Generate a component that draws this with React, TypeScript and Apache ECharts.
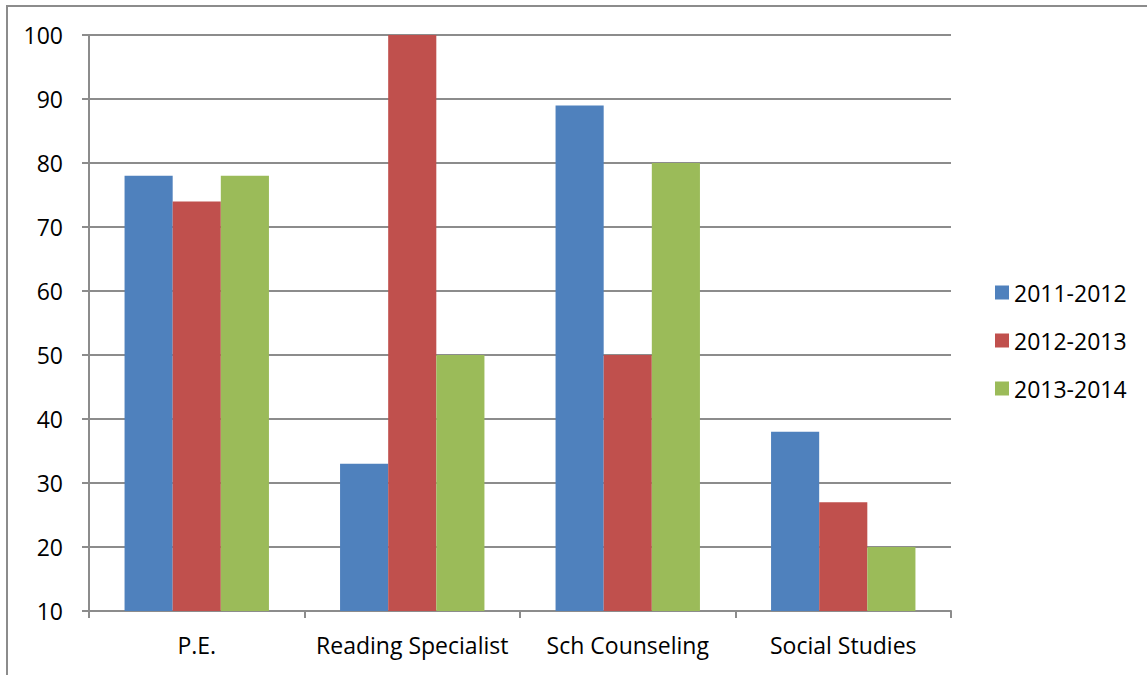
import React, { useEffect, useRef } from "react";
import * as echarts from "echarts";

const categories = ["P.E.", "Reading Specialist", "Sch Counseling", "Social Studies"];
const seriesNames = ["2011-2012", "2012-2013", "2013-2014"];
const values2011 = [78, 33, 89, 38];
const values2012 = [74, 100, 50, 27];
const values2013 = [78, 50, 80, 20];
const colors = ["#4F81BD", "#C0504D", "#9BBB59"];
const yMin = 10;
const yMax = 100;
const yInterval = 10;

const FONT = "'Open Sans', sans-serif";

export default function App() {
  const ref = useRef<HTMLDivElement>(null);
  useEffect(() => {
    if (!ref.current) return;
    const chart = echarts.init(ref.current, undefined, { renderer: "svg" });
    const data = [values2011, values2012, values2013];
    chart.setOption({
      animation: false,
      backgroundColor: "#ffffff",
      textStyle: { fontFamily: FONT },
      graphic: [
        {
          type: "rect",
          shape: { x: 7, y: 6, width: 1200, height: 700 },
          style: { fill: "none", stroke: "#8c8c8c", lineWidth: 2 },
          silent: true,
        },
      ],
      grid: { left: 89, top: 35, right: 196, bottom: 64, containLabel: false },
      legend: {
        orient: "vertical",
        left: 990,
        top: 276,
        itemWidth: 14,
        itemHeight: 14,
        itemGap: 25,
        icon: "rect",
        textStyle: { fontSize: 23, color: "#000", fontFamily: FONT },
        data: seriesNames,
      },
      xAxis: {
        type: "category",
        data: categories,
        axisLine: { lineStyle: { color: "#8c8c8c", width: 2 } },
        axisTick: { show: true, length: 7, lineStyle: { color: "#8c8c8c", width: 2 } },
        axisLabel: { fontSize: 23, color: "#000", margin: 22, interval: 0, fontFamily: FONT },
      },
      yAxis: {
        type: "value",
        min: yMin,
        max: yMax,
        interval: yInterval,
        axisLine: { show: true, lineStyle: { color: "#8c8c8c", width: 2 } },
        axisTick: { show: true, length: 7, lineStyle: { color: "#8c8c8c", width: 2 } },
        axisLabel: { fontSize: 23, color: "#000", margin: 26, fontFamily: FONT },
        splitLine: { lineStyle: { color: "#8c8c8c", width: 2 } },
      },
      series: seriesNames.map((name, i) => ({
        name,
        type: "bar",
        data: data[i],
        barGap: "0%",
        barCategoryGap: "33%",
        itemStyle: { color: colors[i] },
      })),
    });
    return () => chart.dispose();
  }, []);
  return (
    <div
      ref={ref}
      style={{ position: "fixed", left: 0, top: 0, width: 1147, height: 675 }}
    />
  );
}
